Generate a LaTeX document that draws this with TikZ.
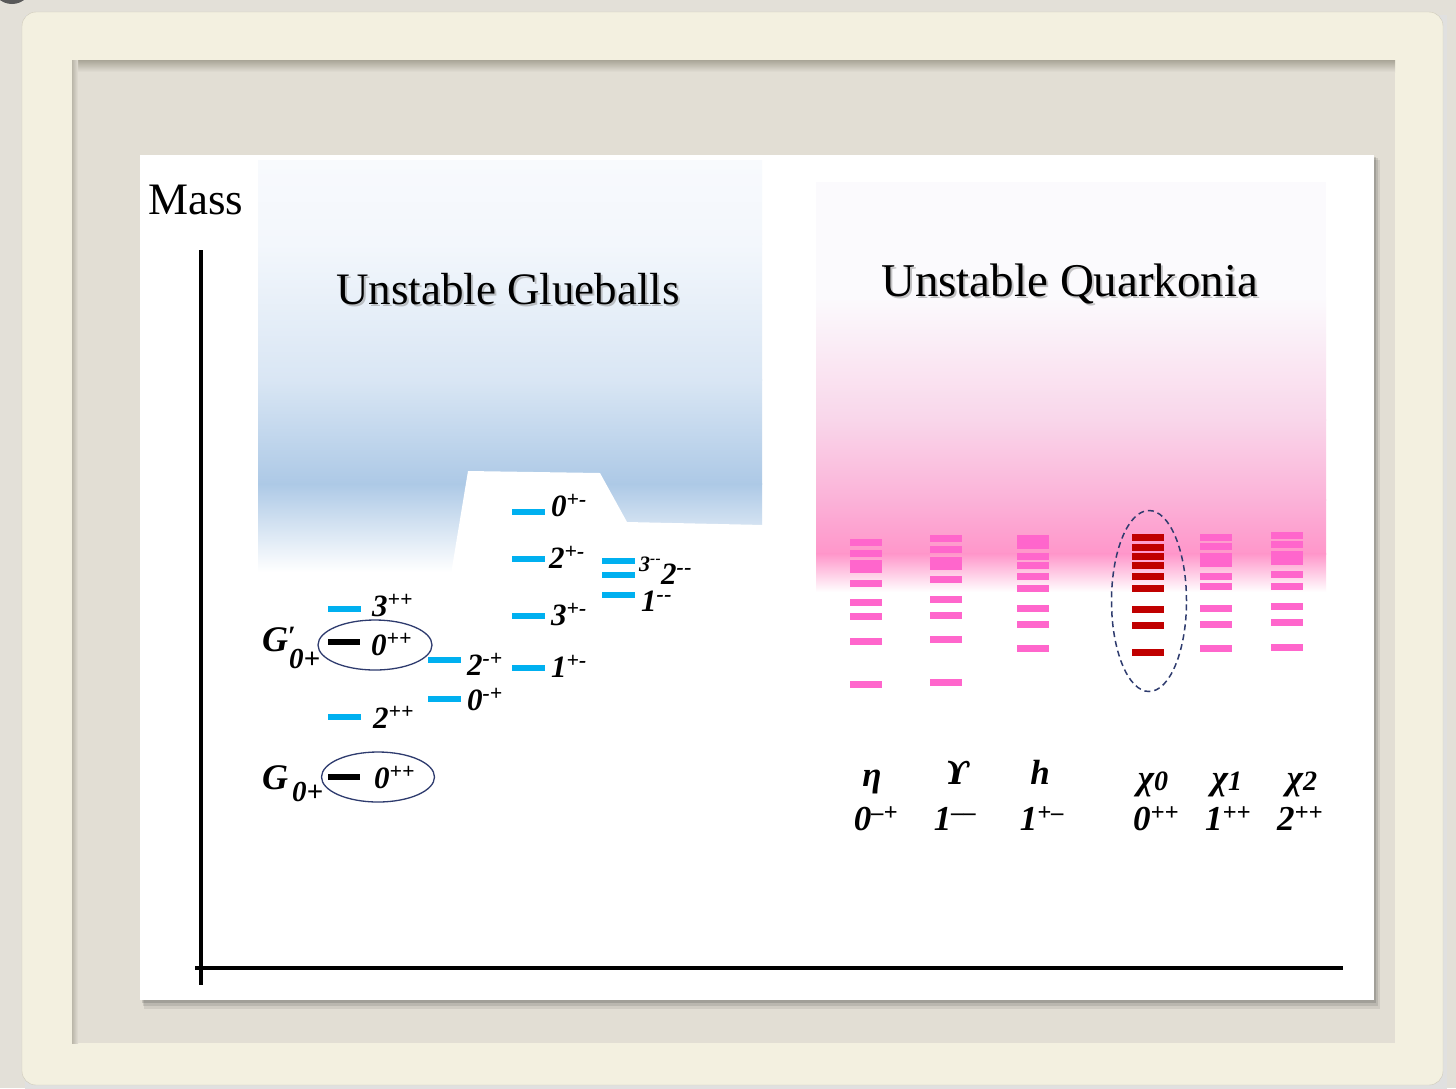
\documentclass[tikz,border=0pt]{standalone}
\usepackage{fontspec}
\setmainfont{Liberation Serif}
\newfontfamily\dvserif{DejaVu Serif}
\usetikzlibrary{shapes.geometric}
\definecolor{bgout}{HTML}{E3E0D8}
\definecolor{cream}{HTML}{F3F0E0}
\definecolor{creamedge}{HTML}{CFCBBB}
\definecolor{innerbg}{HTML}{E2DED4}
\definecolor{innershadow}{HTML}{A9A597}
\definecolor{gbblue}{HTML}{00B0F0}
\definecolor{qpink}{HTML}{FF66CC}
\definecolor{qred}{HTML}{C00000}
\definecolor{ringblue}{HTML}{2E3B6E}
\definecolor{blueA}{HTML}{F8FAFD}
\definecolor{blueA2}{HTML}{F3F7FC}
\definecolor{blueB}{HTML}{D9E6F4}
\definecolor{blueC}{HTML}{ADC9E6}
\definecolor{pinkA}{HTML}{FBFAFD}
\definecolor{pinkB}{HTML}{F9D6EA}
\definecolor{pinkC}{HTML}{FBB2D8}
\definecolor{pinkD}{HTML}{FF96CA}
\begin{document}
\begin{tikzpicture}[x=1pt,y=-1pt,
  lab/.style={font=\fontsize{31}{33}\selectfont\bfseries\itshape, inner sep=0pt, anchor=base west},
  smalllab/.style={font=\fontsize{22}{24}\selectfont\bfseries\itshape, inner sep=0pt, anchor=base west},
  glab/.style={font=\fontsize{36}{38}\selectfont\bfseries\itshape, inner sep=0pt, anchor=base west},
  gsub/.style={font=\fontsize{29}{31}\selectfont\bfseries\itshape, inner sep=0pt, anchor=base west},
  qlab/.style={font=\fontsize{35}{37}\selectfont\bfseries\itshape, inner sep=0pt, anchor=base},
  title/.style={font=\fontsize{45}{50}\selectfont, inner sep=0pt, anchor=base west},
  tshadow/.style={title, text=black!45, opacity=0.5},
  ring/.style={draw=ringblue, line width=1.3pt, ellipse, inner sep=0pt},
  axis/.style={line width=4pt, black}]
\useasboundingbox (0,0) rectangle (1456,1088);
% ---------- background and frame ----------
\fill[bgout] (0,0) rectangle (1456,1088);
\fill[black!65] (12,-16) circle (20);
\fill[black!12] (25,15) rectangle (1447,1090);
\filldraw[fill=cream, draw=creamedge, rounded corners=14pt] (22,12) rectangle (1443,1085);
\fill[innerbg] (72,60) rectangle (1395,1043);
\shade[top color=innershadow, bottom color=innerbg] (72,60) rectangle (1395,72);
\shade[left color=innershadow!70!innerbg, right color=innerbg] (72,60) rectangle (78,1043);
% panel with shadow
\fill[black, opacity=0.08] (144,160) rectangle (1380,1009);
\fill[black, opacity=0.10] (143,158) rectangle (1378,1006);
\fill[black, opacity=0.13] (142,157) rectangle (1376,1003);
\fill[white] (140,155) rectangle (1374,1000);
% ---------- glueball region ----------
\shade[top color=blueA, bottom color=blueA2] (258,160) rectangle (762,244);
\shade[top color=blueA2, bottom color=blueB] (258,243.5) rectangle (762,380);
\shade[top color=blueB, bottom color=blueC] (258,379.5) rectangle (762,484);
\shade[top color=blueC, bottom color=white] (258,483.5) rectangle (762,572);
\fill[white] (450,580) -- (468,471) -- (600,473) -- (627,522) -- (764,525) -- (764,580) -- cycle;
% ---------- quarkonia region ----------
\fill[pinkA] (816,182) rectangle (1326,298);
\shade[top color=pinkA, bottom color=pinkB] (816,297.5) rectangle (1326,420);
\shade[top color=pinkB, bottom color=pinkC] (816,419.5) rectangle (1326,500);
\shade[top color=pinkC, bottom color=pinkD] (816,499.5) rectangle (1326,554);
\shade[top color=pinkD, bottom color=white] (816,553.5) rectangle (1326,592);
% ---------- titles ----------
\node[title] (mass) at (148,214) {Mass};
\node[tshadow] at (338,306) {Unstable Glueballs};
\node[title] (tglue) at (336,304) {Unstable Glueballs};
\node[tshadow, font=\fontsize{47}{50}\selectfont] at (883,298) {Unstable Quarkonia};
\node[title, font=\fontsize{47}{50}\selectfont] (tquark) at (881,296) {Unstable Quarkonia};
% ---------- axes ----------
\coordinate (ytop) at (201,250);
\coordinate (ybot) at (201,985);
\coordinate (xl) at (195,968);
\coordinate (xr) at (1343,968);
\draw[axis] (ytop) -- (ybot);
\draw[axis] (xl) -- (xr);
% ---------- glueball levels ----------
\foreach \x/\y in {328/609, 328/717, 428/660, 428/699, 512/512, 512/559, 512/616, 512/668, 602/561, 602/575, 602/595}
  \fill[gbblue] (\x,\y-3) rectangle ++(33,6);
\fill[black] (328,642-3) rectangle ++(32,6);
\fill[black] (328,777-3) rectangle ++(32,6);
\node[ring, minimum width=114pt, minimum height=50pt] (gpring) at (375,645) {};
\node[ring, minimum width=113pt, minimum height=50pt] (gring) at (378,777) {};
\node[lab] (l3pp) at (372,616) {3\textsuperscript{++}};
\node[lab] (l0pp1) at (371,655) {0\textsuperscript{++}};
\node[lab] (l2mp) at (467,675) {2\textsuperscript{-+}};
\node[lab] (l0mp) at (467,710) {0\textsuperscript{-+}};
\node[lab] (l2pp) at (373,728) {2\textsuperscript{++}};
\node[lab] (l0pp0) at (374,788) {0\textsuperscript{++}};
\node[lab] (l0pm) at (551,516) {0\textsuperscript{+-}};
\node[lab] (l2pm) at (549,568) {2\textsuperscript{+-}};
\node[lab] (l3pm) at (551,625) {3\textsuperscript{+-}};
\node[lab] (l1pm) at (551,677) {1\textsuperscript{+-}};
\node[smalllab] (l3mm) at (639,571) {3\textsuperscript{-\kern0.3pt-}};
\node[lab] (l2mm) at (661,584) {2\textsuperscript{-\kern0.5pt-}};
\node[lab] (l1mm) at (641,611) {1\textsuperscript{-\kern0.5pt-}};
% G labels
\node[glab] (gp) at (262,651) {G};
\node[gsub, font=\fontsize{28}{30}\selectfont\bfseries] (gpprime) at (288,645) {\smash{′}};
\node[gsub] (gpsub) at (289,668) {0+};
\node[glab] (g) at (262,789) {G};
\node[gsub] (gsub0) at (292,801) {0+};
% ---------- quarkonia levels ----------
\foreach \y in {542,553,583,602,616,641,684} \fill[qpink] (850,\y-3.5) rectangle ++(32,7);
\fill[qpink] (850,560) rectangle (882,573);
\foreach \y in {538,549,579,599,615,639,682} \fill[qpink] (930,\y-3.5) rectangle ++(32,7);
\fill[qpink] (930,557) rectangle (962,570);
\foreach \y in {556,565,576,588,608,624,648} \fill[qpink] (1017,\y-3.5) rectangle ++(32,7);
\fill[qpink] (1017,535) rectangle (1049,549);
\foreach \y in {537,547,556,565,576,588,609,625,652} \fill[qred] (1132,\y-3.5) rectangle ++(32,7);
\foreach \y in {537,546,576,586,608,624,648} \fill[qpink] (1200,\y-3.5) rectangle ++(32,7);
\fill[qpink] (1200,553) rectangle (1232,567);
\foreach \y in {535,544,574,586,606,622,647} \fill[qpink] (1271,\y-3.5) rectangle ++(32,7);
\fill[qpink] (1271,551) rectangle (1303,565);
\node[draw=ringblue, line width=1.5pt, dash pattern=on 6pt off 4pt, ellipse, inner sep=0pt,
      minimum width=75pt, minimum height=181pt] (chiring) at (1149,601) {};
% ---------- quarkonia labels ----------
\node[qlab] (eta) at (872,786) {η};
\node[qlab] (ups) at (958,784) {{\dvserif\fontsize{32}{34}\selectfont\bfseries\itshape ϒ}};
\node[qlab] (h) at (1040,784) {h};
\node[qlab] (chi0) at (1153,789) {χ\raisebox{-0.05em}{\fontsize{28}{28}\selectfont 0}};
\node[qlab] (chi1) at (1227,789) {χ\raisebox{-0.05em}{\fontsize{28}{28}\selectfont 1}};
\node[qlab] (chi2) at (1302,789) {χ\raisebox{-0.05em}{\fontsize{28}{28}\selectfont 2}};
\node[qlab] (jeta) at (876,830) {0\textsuperscript{–+}};
\node[qlab] (jups) at (955,830) {1\textsuperscript{––}};
\node[qlab] (jh) at (1042,830) {1\textsuperscript{+–}};
\node[qlab] (jchi0) at (1156,830) {0\textsuperscript{++}};
\node[qlab] (jchi1) at (1228,830) {1\textsuperscript{++}};
\node[qlab] (jchi2) at (1300,830) {2\textsuperscript{++}};
\end{tikzpicture}
\end{document}
